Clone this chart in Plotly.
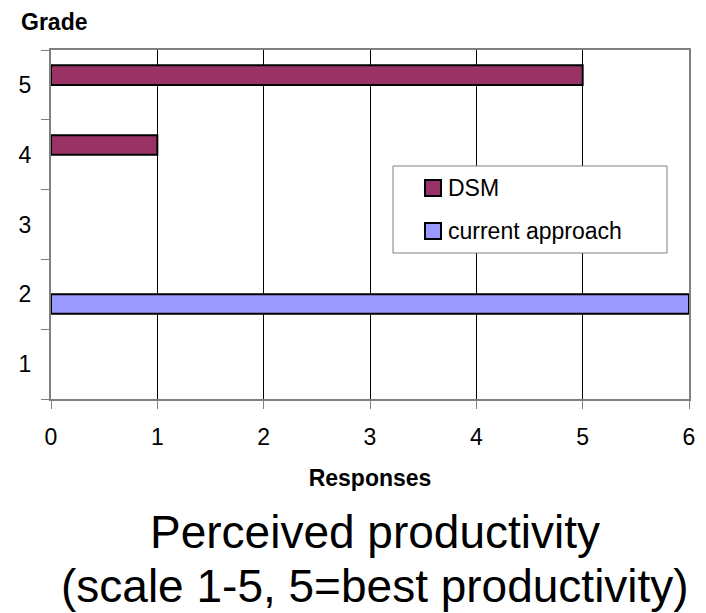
import plotly.graph_objects as go

# Survey: number of responses per perceived-productivity grade
grades = ["1", "2", "3", "4", "5"]
dsm_responses = [0, 0, 0, 1, 5]
current_responses = [0, 6, 0, 0, 0]

series_names = ["DSM", "current approach"]
series_colors = ["#993366", "#9999FF"]

x_ticks = [0, 1, 2, 3, 4, 5, 6]

FONT = "Liberation Sans, Arial, sans-serif"
W, H = 706, 613
M_L, M_R, M_T, M_B = 51, 17, 50, 214
plot_w = W - M_L - M_R
plot_h = H - M_T - M_B


def py(px):
    """Pixel row (from top of page) -> paper y."""
    return (H - M_B - px) / plot_h


def px_x(px):
    """Pixel column (from left of page) -> paper x."""
    return (px - M_L) / plot_w


def blank_zero(vals):
    return [v if v else None for v in vals]


fig = go.Figure()

fig.add_trace(go.Bar(
    name=series_names[0],
    y=grades, x=blank_zero(dsm_responses), orientation="h",
    width=0.28, offset=0.0,
    marker=dict(color=series_colors[0], line=dict(color="black", width=2)),
    showlegend=False,
))
fig.add_trace(go.Bar(
    name=series_names[1],
    y=grades, x=blank_zero(current_responses), orientation="h",
    width=0.28, offset=-0.28,
    marker=dict(color=series_colors[1], line=dict(color="black", width=2)),
    showlegend=False,
))

fig.update_layout(
    width=W, height=H,
    margin=dict(l=M_L, r=M_R, t=M_T, b=M_B),
    paper_bgcolor="white", plot_bgcolor="white",
    barmode="overlay",
    font=dict(family=FONT, size=23, color="black"),
    xaxis=dict(
        range=[0, 6], tickvals=x_ticks,
        showgrid=True, gridcolor="black", gridwidth=1,
        showline=True, linecolor="#808080", linewidth=2, mirror=True,
        ticks="outside", ticklen=8, tickcolor="#808080", tickwidth=1,
        ticklabelstandoff=8,
        zeroline=False,
        title=dict(text="<b>Responses</b>", font=dict(size=23), standoff=21),
        fixedrange=True,
    ),
    yaxis=dict(
        type="category", categoryorder="array", categoryarray=grades,
        range=[-0.5, 4.5],
        showgrid=False,
        showline=True, linecolor="#808080", linewidth=2, mirror=True,
        ticks="outside", ticklen=8, tickcolor="#808080", tickwidth=1,
        tickson="boundaries", ticklabelstandoff=13,
        zeroline=False,
        fixedrange=True,
    ),
)

# Legend box drawn inside the plot area
legend_box = dict(x0=393, x1=667, y0=166, y1=253)
fig.add_shape(
    type="rect", xref="paper", yref="paper",
    x0=px_x(legend_box["x0"]), x1=px_x(legend_box["x1"]),
    y0=py(legend_box["y1"]), y1=py(legend_box["y0"]),
    fillcolor="white", line=dict(color="#808080", width=1), layer="above",
)
legend_rows = [188, 231]
for name, color, row in zip(series_names, series_colors, legend_rows):
    fig.add_shape(
        type="rect", xref="paper", yref="paper",
        x0=px_x(425), x1=px_x(441), y0=py(row + 8), y1=py(row - 8),
        fillcolor=color, line=dict(color="black", width=2), layer="above",
    )
    fig.add_annotation(
        text=name, xref="paper", yref="paper",
        x=px_x(446), y=py(row), xanchor="left", yanchor="middle",
        showarrow=False, font=dict(family=FONT, size=23, color="black"),
    )

fig.add_annotation(
    text="<b>Grade</b>", xref="paper", yref="paper",
    x=px_x(19), y=py(22), xanchor="left", yanchor="middle",
    showarrow=False, font=dict(family=FONT, size=23, color="black"),
)
fig.add_annotation(
    text="Perceived productivity", xref="paper", yref="paper",
    x=px_x(375), y=py(532), xanchor="center", yanchor="middle",
    showarrow=False, font=dict(family=FONT, size=46, color="black"),
)
fig.add_annotation(
    text="(scale 1-5, 5=best productivity)", xref="paper", yref="paper",
    x=px_x(375), y=py(613), xanchor="center", yanchor="bottom",
    showarrow=False, font=dict(family=FONT, size=46, color="black"),
    borderpad=0,
)

fig.write_html("out.html")
